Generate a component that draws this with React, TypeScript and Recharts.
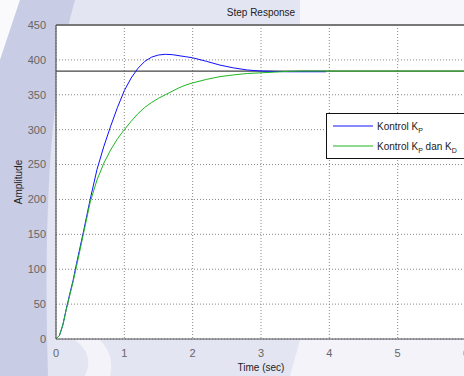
import React from "react";
import {
  LineChart,
  Line,
  XAxis,
  YAxis,
  CartesianGrid,
  ReferenceLine,
} from "recharts";

// Time axis ticks (sec) and amplitude ticks
const xTicks = [0, 1, 2, 3, 4, 5, 6];
const yTicks = [0, 50, 100, 150, 200, 250, 300, 350, 400, 450];

// Kontrol K_P (blue)
const kpTime = [0, 0.05, 0.1, 0.15, 0.2, 0.25, 0.3, 0.4, 0.5, 0.6, 0.7, 0.8, 0.9, 1.0, 1.1, 1.2, 1.3, 1.4, 1.5, 1.6, 1.7, 1.8, 1.9, 2.0, 2.2, 2.4, 2.6, 2.8, 3.0, 3.2, 3.4, 3.6, 3.8, 3.95];
const kpValue = [0, 5, 20, 43, 64, 84, 108, 153, 200, 243, 276, 305, 332, 356, 374, 388, 398, 404, 407, 408, 407.5, 406, 404.5, 403, 398, 392.5, 388.5, 385.5, 384, 383.5, 383, 383, 383, 383];

// Kontrol K_P dan K_D (green)
const kpdTime = [0, 0.05, 0.1, 0.15, 0.2, 0.25, 0.3, 0.4, 0.5, 0.6, 0.7, 0.8, 0.9, 1.0, 1.1, 1.2, 1.3, 1.4, 1.5, 1.6, 1.7, 1.8, 1.9, 2.0, 2.2, 2.4, 2.6, 2.8, 3.0, 3.2, 3.4, 3.6, 4.0, 5.0, 6.0];
const kpdValue = [0, 5, 20, 42, 62, 82, 104, 150, 196, 228, 252, 271, 287, 300, 312, 323, 332, 339, 345, 350, 355, 360, 364, 367, 372, 376, 378.5, 380.5, 381.5, 382.5, 383.5, 384, 384, 384, 384];

const steadyState = 384;

const seriesNames = ["Kontrol K_P", "Kontrol K_P dan K_D"];
const seriesColors = ["#1010ff", "#1fb51f"];

const kpData = kpTime.map((t, i) => ({ t, v: kpValue[i] }));
const kpdData = kpdTime.map((t, i) => ({ t, v: kpdValue[i] }));

const FONT = "'Liberation Sans', Arial, sans-serif";

function renderName(name: string) {
  const parts = name.split(/(K_[A-Z])/);
  return parts.map((p, i) =>
    p.startsWith("K_") ? (
      <span key={i}>
        K<sub style={{ fontSize: 7, verticalAlign: "-3px", lineHeight: 0 }}>{p.slice(2)}</sub>
      </span>
    ) : (
      <span key={i}>{p}</span>
    )
  );
}

const LegendBox = () => (
  <div
    style={{
      position: "absolute",
      left: 326,
      top: 113,
      border: "1.5px solid #111",
      background: "#fff",
      width: 150,
      height: 46,
      boxSizing: "border-box",
      paddingTop: 2,
      fontFamily: FONT,
      fontSize: 10,
      color: "#222",
    }}
  >
    {seriesNames.map((name, i) => (
      <div key={i} style={{ display: "flex", alignItems: "center", height: 20 }}>
        <svg width={50} height={6} style={{ marginLeft: 6 }}>
          <line x1={0} y1={3} x2={40} y2={3} stroke={seriesColors[i]} strokeWidth={1} />
        </svg>
        <span style={{ marginLeft: -6 }}>{renderName(name)}</span>
      </div>
    ))}
  </div>
);

export default function App() {
  return (
    <div
      style={{
        position: "absolute",
        left: 0,
        top: 0,
        width: 464,
        height: 376,
        overflow: "hidden",
        background: "#e3e5f2",
      }}
    >
      <svg width={464} height={376} style={{ position: "absolute", left: 0, top: 0 }}>
        <path d="M300 0 L464 0 L464 24 L300 24 Z" fill="#f7f7fb" />
        <path d="M0 0 L20 0 L0 60 Z" fill="#fafafd" />
        <path d="M20 0 L75 0 Q40 120 48 376 L0 376 L0 60 Z" fill="#c9cce5" />
        <path d="M300 340 L464 340 L464 376 L290 376 Z" fill="#f3f3f9" />
        <path d="M75 340 Q95 355 85 376 L110 376 Q115 355 100 340 Z" fill="#f3f3f9" />
      </svg>
      <div style={{ position: "absolute", left: 0, top: 0 }}>
        <LineChart
          width={480}
          height={376}
          margin={{ top: 25, right: 14, bottom: 7, left: 0 }}
          style={{ fontFamily: FONT }}
        >
          <CartesianGrid
            stroke="#888"
            strokeDasharray="1 2"
            fill="#fff"
            fillOpacity={1}
            horizontalValues={yTicks}
            verticalValues={xTicks}
          />
          <XAxis
            type="number"
            dataKey="t"
            domain={[0, 6]}
            ticks={xTicks}
            allowDataOverflow
            height={30}
            tickLine={false}
            tickMargin={4}
            axisLine={{ stroke: "#555", strokeWidth: 1.2 }}
            tick={{ fill: "#666", fontSize: 11, fontFamily: FONT }}
            label={{ value: "Time (sec)", position: "insideBottom", offset: -2, fill: "#222", fontSize: 10, fontFamily: FONT }}
          />
          <YAxis
            type="number"
            domain={[0, 450]}
            ticks={yTicks}
            width={56}
            tickLine={false}
            tickMargin={4}
            axisLine={{ stroke: "#555", strokeWidth: 1.2 }}
            tick={{ fill: "#666", fontSize: 11, fontFamily: FONT }}
            label={{ value: "Amplitude", angle: -90, position: "insideLeft", offset: 18, fill: "#222", fontSize: 10, fontFamily: FONT, style: { textAnchor: "middle" } }}
          />
          <ReferenceLine y={450} stroke="#777" strokeWidth={2} />
          <ReferenceLine y={steadyState} stroke="#444" strokeWidth={1.2} />
          <Line
            data={kpData}
            dataKey="v"
            name={seriesNames[0]}
            stroke={seriesColors[0]}
            strokeWidth={1}
            dot={false}
            isAnimationActive={false}
            type="linear"
          />
          <Line
            data={kpdData}
            dataKey="v"
            name={seriesNames[1]}
            stroke={seriesColors[1]}
            strokeWidth={1}
            dot={false}
            isAnimationActive={false}
            type="linear"
          />
          <text x={261} y={16} textAnchor="middle" fontSize={10} fill="#222" fontFamily={FONT}>
            Step Response
          </text>
        </LineChart>
      </div>
      <LegendBox />
    </div>
  );
}
